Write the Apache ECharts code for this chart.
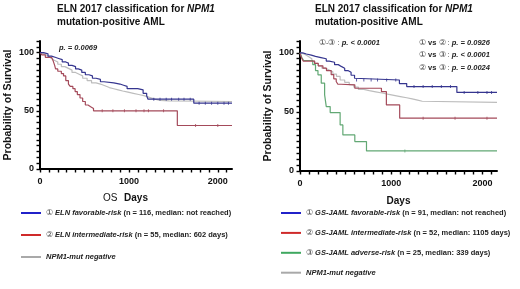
<!DOCTYPE html>
<html><head><meta charset="utf-8">
<script src="https://cdn.jsdelivr.net/npm/echarts@6/dist/echarts.min.js"></script>
<style>html,body{margin:0;padding:0;background:#fff}#c{width:520px;height:289px}</style>
</head><body><div id="c"></div>
<script>
// ---------- tick values ----------
const xTickStep = 100;          // minor tick spacing (days)
const xLabelValues = [0, 1000, 2000];
const yTickStep = 5;            // minor tick spacing (%)
const yLabelValues = [0, 50, 100];

// ---------- left chart: ELN 2017 ----------
const elnFavDays = [0, 40, 90, 130, 170, 210, 250, 290, 320, 360, 400, 430, 470, 510, 550, 590, 630, 680, 720, 830, 900, 940, 980, 1100, 1160, 1200, 1215, 1730, 2160];
const elnFavSurv = [100, 99, 97, 96, 95, 94, 92, 91, 89, 88, 86, 85, 83, 81, 80, 78, 77, 75, 74, 73, 72, 71, 69, 68, 65, 63, 60, 56.6, 56.6];
const elnIntDays = [0, 20, 60, 130, 150, 165, 175, 200, 240, 265, 290, 320, 340, 370, 395, 420, 450, 480, 510, 540, 570, 602, 1545, 2160];
const elnIntSurv = [100, 98, 96, 94.5, 92.5, 89, 86, 84, 82, 80, 76, 73, 71, 69, 66.5, 64, 61, 58, 55, 53.5, 52, 50, 37.4, 37.4];
const negLDays = [0, 20, 45, 70, 100, 130, 160, 200, 240, 280, 320, 360, 400, 440, 480, 530, 580, 630, 680, 730, 780, 830, 880, 930, 990, 1050, 1110, 1170, 1230, 1290, 1350, 1450, 2160];
const negLSurv = [100, 99, 98, 96.5, 95, 93.5, 92, 90, 88, 86.5, 85, 83, 81.5, 80, 78, 76, 74, 73, 71.5, 70, 69, 68, 67, 66, 65, 64, 63, 61.5, 60, 59, 58.5, 58, 58];
const elnFavCensDays = [1280, 1350, 1420, 1480, 1560, 1620, 1690, 1790, 1860, 1930, 2000, 2070, 2120];
const elnFavCensSurv = [60, 60, 60, 60, 60, 60, 60, 56.6, 56.6, 56.6, 56.6, 56.6, 56.6];
const elnIntCensDays = [700, 820, 950, 1080, 1170, 1220, 1390, 1750, 2000];
const elnIntCensSurv = [50, 50, 50, 50, 50, 50, 50, 37.4, 37.4];

// ---------- right chart: GS-JAML ----------
const gsFavDays = [0, 30, 70, 124, 170, 230, 288, 320, 379, 420, 452, 490, 525, 560, 598, 616, 1090, 1170, 1720, 2160];
const gsFavSurv = [100, 99, 98, 97, 96, 95, 93, 92, 90, 88.5, 87, 85, 83.5, 81, 78.5, 77, 74, 71.4, 66.5, 66.5];
const gsIntDays = [0, 15, 35, 160, 200, 251, 290, 342, 370, 397, 415, 450, 601, 893, 947, 1093, 2160];
const gsIntSurv = [100, 96, 93, 91, 89, 87, 85, 81.5, 78, 75.7, 73.4, 72.9, 70, 67.2, 55.9, 44.7, 44.7];
const gsAdvDays = [0, 20, 40, 140, 170, 197, 233, 270, 288, 331, 440, 470, 601, 729, 2160];
const gsAdvSurv = [100, 96, 93.5, 90, 85, 81.4, 74.3, 64.4, 54.5, 49.4, 39, 30.5, 24.9, 17, 17];
const negRDays = [0, 20, 45, 70, 100, 130, 160, 200, 240, 280, 320, 360, 400, 440, 490, 540, 590, 640, 700, 760, 830, 900, 960, 1030, 1100, 1170, 1230, 1290, 1340, 2160];
const negRSurv = [100, 99, 98, 96.5, 95, 93, 91, 89, 87, 85.5, 84, 82, 80, 77, 75, 73, 71, 69, 68, 67, 66, 65, 64, 63, 62, 61, 60, 59, 58, 58];
const gsFavCensDays = [620, 700, 780, 850, 950, 1050, 1250, 1350, 1450, 1550, 1650, 1800, 1950, 2050, 2100];
const gsFavCensSurv = [77, 77, 77, 77, 77, 77, 71.4, 71.4, 71.4, 71.4, 71.4, 66.5, 66.5, 66.5, 66.5];
const gsIntCensDays = [1350, 1700, 2050];
const gsIntCensSurv = [44.7, 44.7, 44.7];
const gsAdvCensDays = [1150];
const gsAdvCensSurv = [17];

const FONT = '"Liberation Sans", Arial, sans-serif';
const C = { blue: '#35358f', red: '#a44a5a', green: '#62a874', gray: '#bdbdbd' };
const LC = { blue: '#2121c9', red: '#cf2a2a', green: '#3fa860', gray: '#a9a9a9' };
const X_MAX = 2160, Y_MAX = 110;

const pairs = (d, s) => d.map((v, i) => [v, s[i]]);
const onlyIn = list => v => (list.indexOf(v) >= 0 ? String(v) : '');

function xAxis(gi, nameGap) {
  return {
    type: 'value', gridIndex: gi, min: 0, max: X_MAX, interval: xTickStep, position: 'bottom',
    name: 'Days', nameLocation: 'middle', nameGap: nameGap,
    nameTextStyle: { fontFamily: FONT, fontSize: 10, fontWeight: 'bold', color: '#111' },
    axisLine: { show: true, lineStyle: { color: '#000', width: 2 } },
    axisTick: { show: true, length: 3.5, lineStyle: { color: '#000', width: 1.4 } },
    axisLabel: { formatter: onlyIn(xLabelValues), showMaxLabel: false, hideOverlap: false, fontFamily: FONT, fontSize: 9, fontWeight: 'bold', color: '#111', margin: 8 },
    splitLine: { show: false }
  };
}
function yAxis(gi) {
  return {
    type: 'value', gridIndex: gi, min: 0, max: Y_MAX, interval: yTickStep, position: 'left',
    name: 'Probability of Survival', nameLocation: 'middle', nameGap: 26,
    nameTextStyle: { fontFamily: FONT, fontSize: 10.5, fontWeight: 'bold', color: '#111' },
    axisLine: { show: true, lineStyle: { color: '#000', width: 2 } },
    axisTick: { show: true, length: 3.5, lineStyle: { color: '#000', width: 1.4 } },
    axisLabel: { formatter: onlyIn(yLabelValues), hideOverlap: false, fontFamily: FONT, fontSize: 9, fontWeight: 'bold', color: '#111', margin: 6 },
    splitLine: { show: false }
  };
}
function curve(name, gi, d, s, color, z) {
  return { name, type: 'line', step: 'end', xAxisIndex: gi, yAxisIndex: gi, data: pairs(d, s),
    symbol: 'none', lineStyle: { color, width: 1.2 }, itemStyle: { color }, z, silent: true };
}
function cens(gi, d, s, color) {
  return { type: 'scatter', xAxisIndex: gi, yAxisIndex: gi, data: pairs(d, s),
    symbol: 'rect', symbolSize: [1, 3], itemStyle: { color }, z: 5, silent: true };
}

const rich = {
  b: { fontFamily: FONT, fontSize: 7.5, fontWeight: 'bold', color: '#222', lineHeight: 10 },
  bi: { fontFamily: FONT, fontSize: 7.5, fontWeight: 'bold', fontStyle: 'italic', color: '#222', lineHeight: 10 },
  c: { fontFamily: FONT, fontSize: 7.5, fontWeight: 'normal', color: '#444', lineHeight: 10 }
};
const titleRich = {
  t: { fontFamily: FONT, fontSize: 10, fontWeight: 'bold', color: '#111', lineHeight: 12.5 },
  ti: { fontFamily: FONT, fontSize: 10, fontWeight: 'bold', fontStyle: 'italic', color: '#111', lineHeight: 12.5 }
};
const titleText = '{t|ELN 2017 classification for }{ti|NPM1}\n{t|mutation-positive AML}';
const legendText = {
  L1: '{c|① }{bi|ELN favorable-risk}{b| (n = 116, median: not reached)}',
  L2: '{c|② }{bi|ELN intermediate-risk}{b| (n = 55, median: 602 days)}',
  L3: '{bi|NPM1-mut negative}',
  R1: '{c|① }{bi|GS-JAML favorable-risk}{b| (n = 91, median: not reached)}',
  R2: '{c|② }{bi|GS-JAML intermediate-risk}{b| (n = 52, median: 1105 days)}',
  R3: '{c|③ }{bi|GS-JAML adverse-risk}{b| (n = 25, median: 339 days)}',
  R4: '{bi|NPM1-mut negative}'
};
function note(text, left, top) {
  return { text, left, top, padding: 0, textStyle: { rich } };
}

const option = {
  animation: false,
  backgroundColor: '#fff',
  title: [
    { text: titleText, left: 57, top: 3, padding: 0, textStyle: { rich: titleRich } },
    { text: titleText, left: 315, top: 3, padding: 0, textStyle: { rich: titleRich } },
    { text: 'OS', left: 103, top: 193, padding: 0, textStyle: { fontFamily: FONT, fontSize: 10, fontWeight: 'normal', color: '#111' } },
    note('{bi|p. = 0.0069}', 59, 43),
    note('{c|①-③ : }{bi|p. < 0.0001}', 319, 38),
    note('{c|① }{b|vs}{c| ② : }{bi|p. = 0.0926}', 419, 38),
    note('{c|① }{b|vs}{c| ③ : }{bi|p. < 0.0001}', 419, 50),
    note('{c|② }{b|vs}{c| ③ : }{bi|p. = 0.0024}', 419, 63)
  ],
  grid: [
    { left: 40, top: 41, width: 192, height: 128 },
    { left: 300, top: 41, width: 197, height: 130 }
  ],
  xAxis: [xAxis(0, 24), xAxis(1, 25)],
  yAxis: [yAxis(0), yAxis(1)],
  legend: [{
    left: 21, top: 209, orient: 'vertical', icon: 'rect', itemWidth: 20, itemHeight: 2, itemGap: 14,
    selectedMode: false, padding: 0,
    data: [{ name: 'L1', itemStyle: { color: LC.blue } }, { name: 'L2', itemStyle: { color: LC.red } }, { name: 'L3', itemStyle: { color: LC.gray } }],
    formatter: n => legendText[n], textStyle: { rich }
  }, {
    left: 281, top: 209, orient: 'vertical', icon: 'rect', itemWidth: 20, itemHeight: 2, itemGap: 11.9,
    selectedMode: false, padding: 0,
    data: [{ name: 'R1', itemStyle: { color: LC.blue } }, { name: 'R2', itemStyle: { color: LC.red } }, { name: 'R3', itemStyle: { color: LC.green } }, { name: 'R4', itemStyle: { color: LC.gray } }],
    formatter: n => legendText[n], textStyle: { rich }
  }],
  series: [
    curve('L3', 0, negLDays, negLSurv, C.gray, 2),
    curve('L2', 0, elnIntDays, elnIntSurv, C.red, 3),
    curve('L1', 0, elnFavDays, elnFavSurv, C.blue, 4),
    cens(0, elnFavCensDays, elnFavCensSurv, C.blue),
    cens(0, elnIntCensDays, elnIntCensSurv, C.red),
    curve('R4', 1, negRDays, negRSurv, C.gray, 2),
    curve('R3', 1, gsAdvDays, gsAdvSurv, C.green, 3),
    curve('R2', 1, gsIntDays, gsIntSurv, C.red, 3),
    curve('R1', 1, gsFavDays, gsFavSurv, C.blue, 4),
    cens(1, gsFavCensDays, gsFavCensSurv, C.blue),
    cens(1, gsIntCensDays, gsIntCensSurv, C.red),
    cens(1, gsAdvCensDays, gsAdvCensSurv, C.green)
  ]
};
const chart = echarts.init(document.getElementById('c'), null, { renderer: 'canvas' });
chart.setOption(option);
</script></body></html>
